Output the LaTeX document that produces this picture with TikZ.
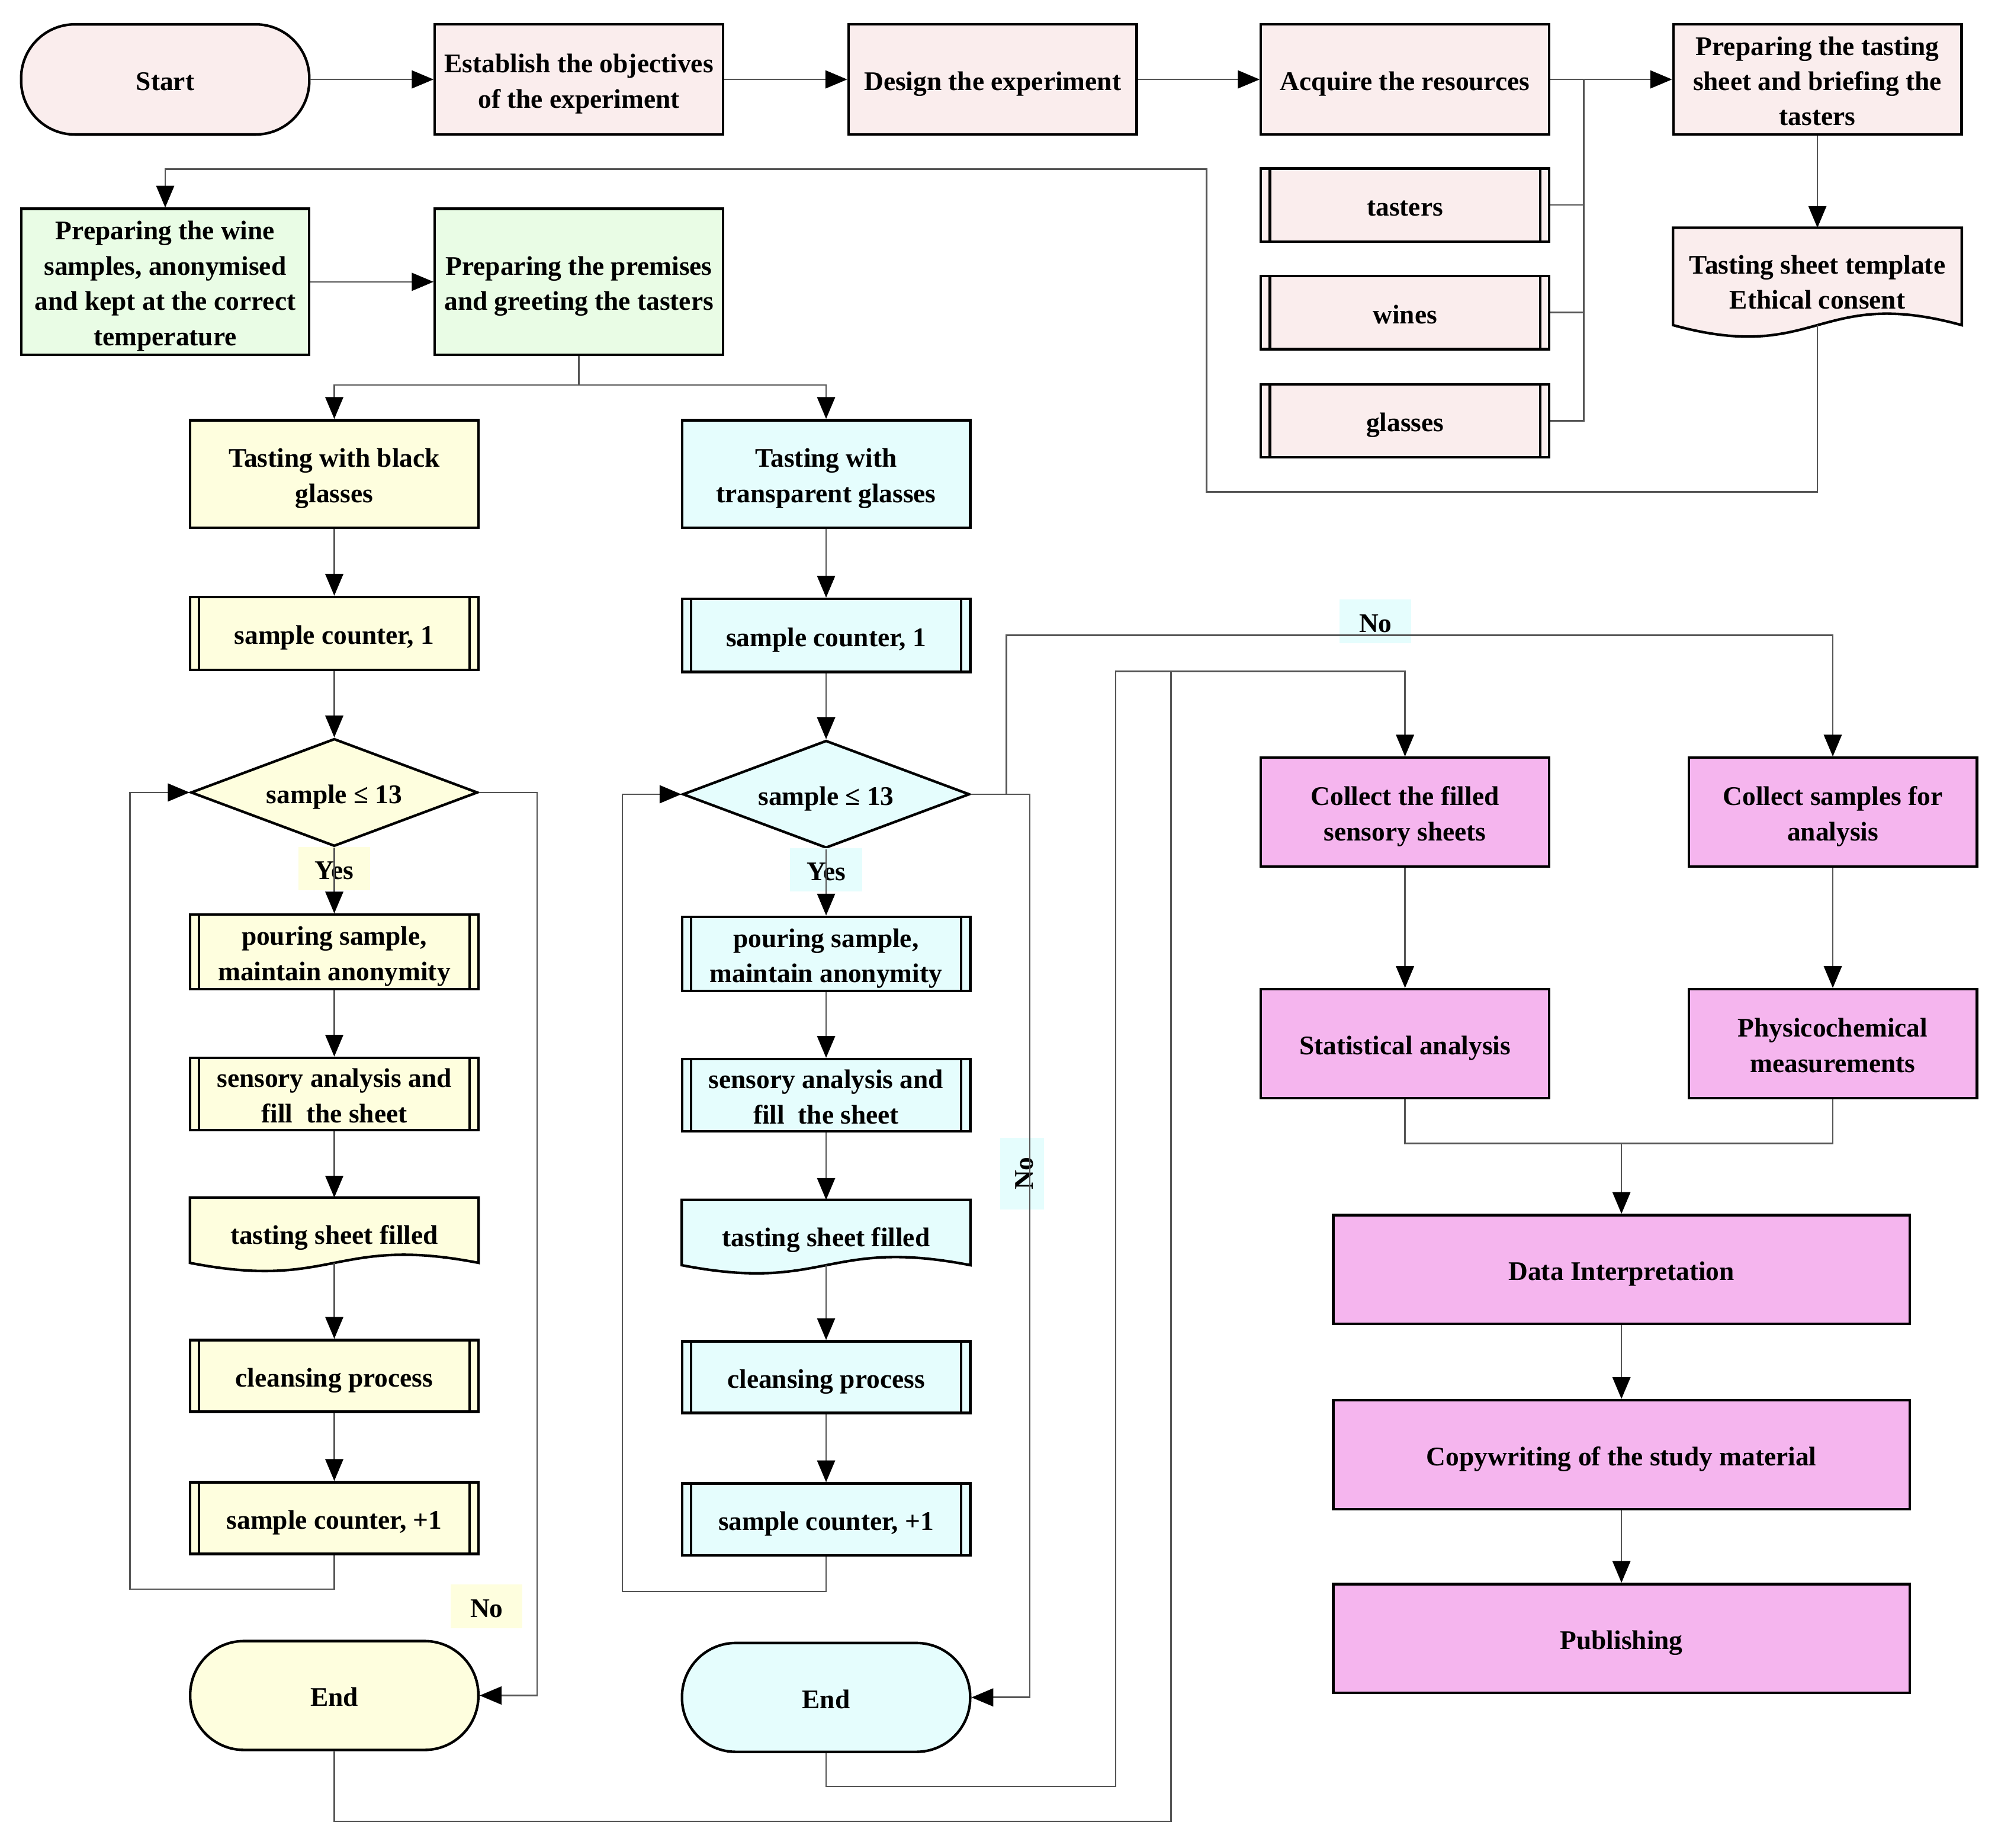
\documentclass[tikz,border=0pt]{standalone}
\usepackage{fontspec}
\setmainfont{Liberation Serif}
\usetikzlibrary{shapes.geometric,arrows.meta,backgrounds,calc}
\definecolor{pinkbg}{RGB}{250,237,237}
\definecolor{greenbg}{RGB}{233,252,229}
\definecolor{yellowbg}{RGB}{254,254,222}
\definecolor{cyanbg}{RGB}{229,253,253}
\definecolor{magbg}{RGB}{245,181,238}
\definecolor{linegray}{RGB}{85,85,85}
\newcommand\dfont{\fontsize{21}{27.5}\selectfont\bfseries}
\begin{document}
\begin{tikzpicture}[x=1pt,y=-1pt,
  every node/.style={font=\dfont, align=center, inner sep=0pt, text=black},
  one/.style={text height=23pt, text depth=6pt},
  two/.style={text height=50.5pt, text depth=6pt},
  three/.style={text height=78pt, text depth=6pt},
  four/.style={text height=105.5pt, text depth=6pt},
  box/.style={rectangle, draw=black, line width=2pt, minimum width=225pt},
  pk/.style={box, fill=pinkbg, minimum height=86pt},
  gr/.style={box, fill=greenbg, minimum height=114pt},
  res/.style={box, one, fill=pinkbg, minimum height=57pt},
  yl/.style={box, fill=yellowbg},
  cy/.style={box, fill=cyanbg},
  mg/.style={box, fill=magbg, minimum height=85pt},
  term/.style={box, one, rounded corners=42pt, minimum height=85pt},
  dec/.style={diamond, one, draw=black, line width=2pt, minimum width=224pt, minimum height=84pt, aspect=2.67},
  docnode/.style={rectangle, minimum width=225pt},
  docshape/.style={draw=black, line width=2pt},
  lab/.style={rectangle, one, minimum width=56pt, minimum height=34pt},
  conn/.style={draw=linegray, line width=1.2pt},
  arr/.style={conn, -{Triangle[length=17pt,width=14pt,color=black]}}
]
\useasboundingbox (0,0) rectangle (1560,1442.55);

% ---- top row
\node[term, fill=pinkbg, minimum height=86pt] (start) at (129,62) {Start};
\node[pk, two] (estab) at (452,62) {Establish the objectives\\of the experiment};
\node[pk, one] (design) at (775,62) {Design the experiment};
\node[pk, one] (acq) at (1097,62) {Acquire the resources};
\node[pk, three] (prep) at (1419,62) {Preparing the tasting\\sheet and briefing the\\tasters};

% ---- resources
\node[res] (tasters) at (1097,160) {tasters};
\node[res] (wines) at (1097,244) {wines};
\node[res] (glasses) at (1097,328.5) {glasses};
\node[docnode, two, minimum height=82pt] (tmpl) at (1419,219) {Tasting sheet template\\Ethical consent};

% ---- preparation
\node[gr, four] (wine) at (129,220) {Preparing the wine\\samples, anonymised\\and kept at the correct\\temperature};
\node[gr, two] (prem) at (452,220) {Preparing the premises\\and greeting the tasters};

% ---- left column (black glasses)
\node[yl, two, minimum height=84pt] (black) at (261,370) {Tasting with black\\glasses};
\node[yl, one, minimum height=57pt] (c1) at (261,494.5) {sample counter, 1};
\node[dec, fill=yellowbg] (d1) at (261,618.6) {sample ≤ 13};
\node[yl, two, minimum height=58pt] (pour1) at (261,743) {pouring sample,\\maintain anonymity};
\node[yl, two, minimum height=56pt] (sens1) at (261,854) {sensory analysis and\\fill\ \ the sheet};
\node[docnode, one, minimum height=55pt] (tsf1) at (261,962.5) {tasting sheet filled};
\node[yl, one, minimum height=56pt] (clean1) at (261,1074) {cleansing process};
\node[yl, one, minimum height=56pt] (cp1) at (261,1185) {sample counter, +1};
\node[term, fill=yellowbg] (end1) at (261,1323.5) {End};

% ---- right column (transparent glasses)
\node[cy, two, minimum height=84pt] (trans) at (645,370) {Tasting with\\transparent glasses};
\node[cy, one, minimum height=57pt] (c2) at (645,496) {sample counter, 1};
\node[dec, fill=cyanbg] (d2) at (645,620) {sample ≤ 13};
\node[cy, two, minimum height=58pt] (pour2) at (645,744.6) {pouring sample,\\maintain anonymity};
\node[cy, two, minimum height=56pt] (sens2) at (645,855) {sensory analysis and\\fill\ \ the sheet};
\node[docnode, one, minimum height=55pt] (tsf2) at (645,964.3) {tasting sheet filled};
\node[cy, one, minimum height=56pt] (clean2) at (645,1075) {cleansing process};
\node[cy, one, minimum height=56pt] (cp2) at (645,1186) {sample counter, +1};
\node[term, fill=cyanbg] (end2) at (645,1325) {End};

% ---- analysis
\node[mg, two] (cfill) at (1097,634) {Collect the filled\\sensory sheets};
\node[mg, two] (csamp) at (1431,634) {Collect samples for\\analysis};
\node[mg, one] (stat) at (1097,814.7) {Statistical analysis};
\node[mg, two] (phys) at (1431,814.7) {Physicochemical\\measurements};
\node[mg, one, minimum width=450pt] (data) at (1266,991) {Data Interpretation};
\node[mg, one, minimum width=450pt] (copy) at (1266,1135.5) {Copywriting of the study material};
\node[mg, one, minimum width=450pt] (pub) at (1266,1279) {Publishing};

% ---- coordinates
\coordinate (tmplb) at ($(tmpl.north)+(0,76)$);
\coordinate (tsf1b) at ($(tsf1.north)+(0,51)$);
\coordinate (tsf2b) at ($(tsf2.north)+(0,51)$);

% ---- document shapes
\begin{pgfonlayer}{background}
\foreach \n/\c/\a/\h in {tmpl/pinkbg/31/76, tsf1/yellowbg/22/51, tsf2/cyanbg/22/51}{
  \draw[docshape, fill=\c] (\n.north west) -- (\n.north east) -- ($(\n.north east)+(0,\h)$)
    .. controls ($(\n.north)+(0,\h-\a)$) and ($(\n.north)+(0,\h+\a)$) .. ($(\n.north west)+(0,\h)$) -- cycle;
}
\end{pgfonlayer}

% ---- double bars of process boxes
\foreach \n in {tasters,wines,glasses,c1,pour1,sens1,clean1,cp1,c2,pour2,sens2,clean2,cp2}{
  \draw[line width=2pt] ($(\n.north west)+(8,0)$) -- ($(\n.south west)+(8,0)$);
  \draw[line width=2pt] ($(\n.north east)+(-8,0)$) -- ($(\n.south east)+(-8,0)$);
}

% ---- labels
\node[lab, fill=yellowbg] (yes1) at (261,678) {Yes};
\node[lab, fill=cyanbg] (yes2) at (645,679) {Yes};
\node[lab, fill=yellowbg] (no1) at (380,1254) {No};
\node[lab, fill=cyanbg, rotate=90] (no2) at (798,916) {No};
\node[lab, fill=cyanbg] (no3) at (1074,485) {No};

% ---- routing coordinates
\coordinate (bus) at (1236.5,62);
\coordinate (lpA) at (942,384);
\coordinate (lpB) at (942,132);
\coordinate (split) at (452,300.5);
\coordinate (loopL) at (101.4,1240.5);
\coordinate (loopR) at (486,1242.4);
\coordinate (noLx) at (419.4,1000);
\coordinate (noRx) at (804,1000);
\coordinate (upb) at (785.8,620);
\coordinate (upc) at (785.8,496);
\coordinate (e1a) at (914.4,1421.8);
\coordinate (e1b) at (914.4,524);
\coordinate (e2a) at (871,1394.5);
\coordinate (e2b) at (871,524);
\coordinate (merge) at (1266,892.5);

% ---- connectors, top
\draw[arr] (start) -- (estab);
\draw[arr] (estab) -- (design);
\draw[arr] (design) -- (acq);
\draw[arr] (acq) -- (prep);
\draw[conn] (tasters.east) -| (bus);
\draw[conn] (wines.east) -- (wines.east -| bus);
\draw[conn] (glasses.east) -| (bus);
\draw[arr] (prep) -- (tmpl.north);
\draw[arr] (tmplb) |- (lpA) -- (lpB) -| (wine.north);
\draw[arr] (wine) -- (prem);
\draw[conn] (prem.south) -- (split);
\draw[arr] (split) -| (black.north);
\draw[arr] (split) -| (trans.north);

% ---- left column
\draw[arr] (black) -- (c1);
\draw[arr] (c1) -- (d1.north);
\draw[arr] (d1.south) -- (pour1.north);
\draw[arr] (pour1) -- (sens1);
\draw[arr] (sens1) -- (tsf1.north);
\draw[arr] (tsf1b) -- (clean1.north);
\draw[arr] (clean1) -- (cp1);
\draw[arr] (cp1.south) |- (loopL) |- (d1.west);
\draw[arr] (d1.east) -| (noLx) |- (end1.east);

% ---- right column
\draw[arr] (trans) -- (c2);
\draw[arr] (c2) -- (d2.north);
\draw[arr] (d2.south) -- (pour2.north);
\draw[arr] (pour2) -- (sens2);
\draw[arr] (sens2) -- (tsf2.north);
\draw[arr] (tsf2b) -- (clean2.north);
\draw[arr] (clean2) -- (cp2);
\draw[arr] (cp2.south) |- (loopR) |- (d2.west);
\draw[arr] (d2.east) -| (noRx) |- (end2.east);
\draw[arr] (upb) -- (upc) -| (csamp.north);

% ---- ends to analysis
\draw[arr] (end1.south) |- (e1a) -- (e1b) -| (cfill.north);
\draw[conn] (end2.south) |- (e2a) -- (e2b) -- (e1b);
\draw[arr] (cfill) -- (stat);
\draw[arr] (csamp) -- (phys);
\draw[conn] (stat.south) |- (merge);
\draw[conn] (phys.south) |- (merge);
\draw[arr] (merge) -- (data.north);
\draw[arr] (data) -- (copy);
\draw[arr] (copy) -- (pub);
\end{tikzpicture}
\end{document}
